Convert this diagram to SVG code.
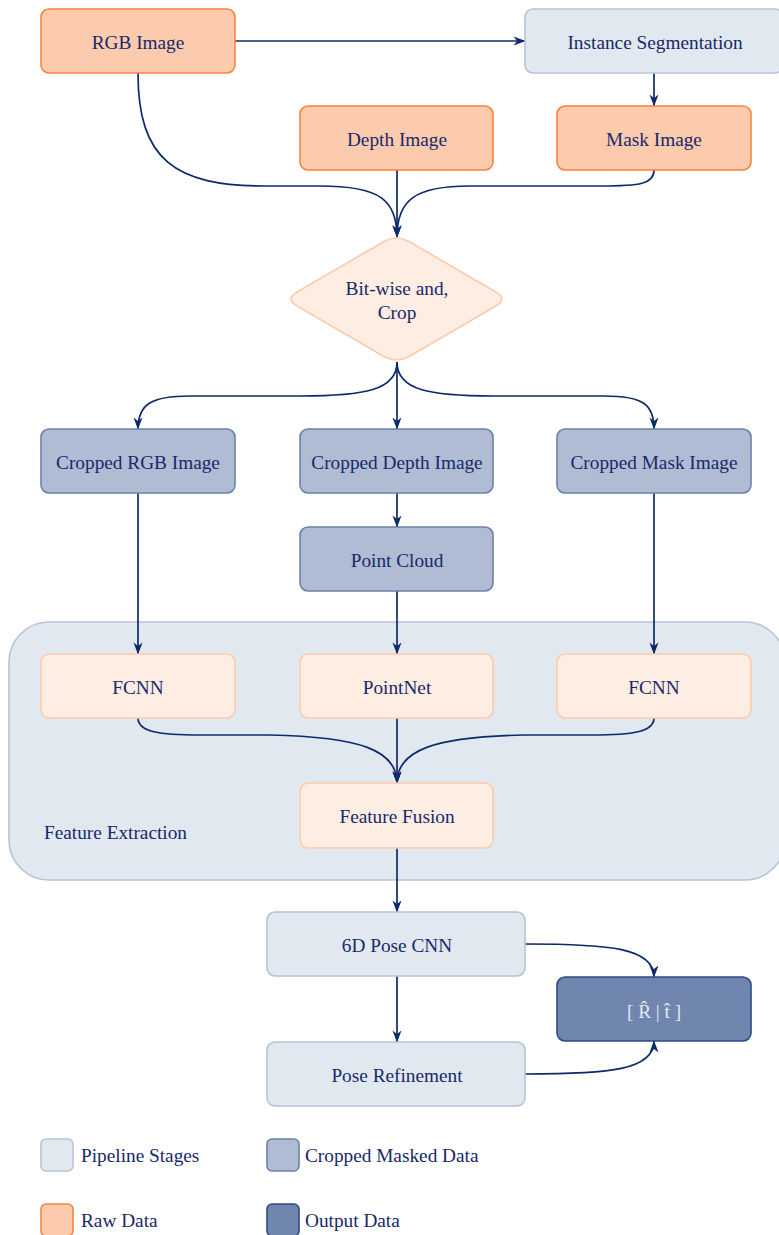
<svg xmlns="http://www.w3.org/2000/svg" width="779" height="1235" viewBox="0 0 779 1235">
<defs>
<marker id="arr" viewBox="0 0 12 10" refX="11.5" refY="5" markerWidth="13" markerHeight="10" markerUnits="userSpaceOnUse" orient="auto">
<path d="M0,0.5 L12,5 L0,9.5 L3.5,5 Z" fill="#0d2a6b"/>
</marker>
<style>
text{font-family:"Liberation Serif","Times New Roman",serif;font-size:19.3px;fill:#16296b;text-anchor:middle}
.raw{fill:#fccbad;stroke:#f5843f;stroke-width:1.6}
.stage{fill:#e2e8f0;stroke:#b6c3d9;stroke-width:1.6}
.crop{fill:#b0bcd4;stroke:#6c80a9;stroke-width:1.6}
.out{fill:#7186ae;stroke:#2f4b86;stroke-width:1.6}
.proc{fill:#feede2;stroke:#fccbad;stroke-width:1.6}
.edge{fill:none;stroke:#0d2a6b;stroke-width:1.7;marker-end:url(#arr)}
.lt{text-anchor:start}
</style>
</defs>
<rect width="779" height="1235" fill="#ffffff"/>

<g id="feature-extraction">
<rect x="9" y="622" width="776" height="258" rx="40" class="stage"/>
<text x="44" y="839" class="lt">Feature Extraction</text>
</g>

<g id="edges">
<path class="edge" d="M235,41 L525,41"/>
<path class="edge" d="M654,73 L654,106"/>
<path class="edge" d="M138,73 C138,160 175,186 265,186 L320,186 C380,186 397,200 397,237"/>
<path class="edge" d="M397,170 L397,237"/>
<path class="edge" d="M654,170 C654,184 640,186 600,186 L470,186 C415,186 397,200 397,237"/>
<path class="edge" d="M397,362 C397,390 365,396 300,396 L190,396 C150,396 138,405 138,429"/>
<path class="edge" d="M397,362 L397,429"/>
<path class="edge" d="M397,362 C397,390 429,396 494,396 L604,396 C644,396 654,405 654,429"/>
<path class="edge" d="M138,493 L138,654"/>
<path class="edge" d="M397,493 L397,527"/>
<path class="edge" d="M397,591 L397,654"/>
<path class="edge" d="M654,493 L654,654"/>
<path class="edge" d="M138,718 C138,732 160,735 200,735 L270,735 C360,737 397,750 397,783"/>
<path class="edge" d="M397,718 L397,783"/>
<path class="edge" d="M654,718 C654,732 632,735 592,735 L524,735 C434,737 397,750 397,783"/>
<path class="edge" d="M397,848 L397,912"/>
<path class="edge" d="M525,944 C610,944 654,948 654,977"/>
<path class="edge" d="M397,976 L397,1042"/>
<path class="edge" d="M525,1074 C610,1074 654,1070 654,1041"/>
</g>

<g id="rgb-image">
<rect x="41" y="9" width="194" height="64" rx="8" class="raw"/>
<text x="138" y="49">RGB Image</text>
</g>
<g id="instance-segmentation">
<rect x="525" y="9" width="258" height="64" rx="8" class="stage"/>
<text x="655" y="49">Instance Segmentation</text>
</g>
<g id="depth-image">
<rect x="300" y="106" width="193" height="64" rx="8" class="raw"/>
<text x="397" y="146">Depth Image</text>
</g>
<g id="mask-image">
<rect x="557" y="106" width="194" height="64" rx="8" class="raw"/>
<text x="654" y="146">Mask Image</text>
</g>
<g id="bitwise-crop">
<path d="M383.9,241.5 Q396.5,234.5 409.1,241.5 L495.9,292 Q508,299 495.9,306 L409.1,356.5 Q396.5,363.5 383.9,356.5 L297.1,306 Q285,299 297.1,292 Z" class="proc"/>
<text x="397" y="295">Bit-wise and,</text>
<text x="397" y="319">Crop</text>
</g>
<g id="cropped-rgb">
<rect x="41" y="429" width="194" height="64" rx="8" class="crop"/>
<text x="138" y="469">Cropped RGB Image</text>
</g>
<g id="cropped-depth">
<rect x="300" y="429" width="193" height="64" rx="8" class="crop"/>
<text x="397" y="469">Cropped Depth Image</text>
</g>
<g id="cropped-mask">
<rect x="557" y="429" width="194" height="64" rx="8" class="crop"/>
<text x="654" y="469">Cropped Mask Image</text>
</g>
<g id="point-cloud">
<rect x="300" y="527" width="193" height="64" rx="8" class="crop"/>
<text x="397" y="567">Point Cloud</text>
</g>
<g id="fcnn-rgb">
<rect x="41" y="654" width="194" height="64" rx="8" class="proc"/>
<text x="138" y="694">FCNN</text>
</g>
<g id="pointnet">
<rect x="300" y="654" width="193" height="64" rx="8" class="proc"/>
<text x="397" y="694">PointNet</text>
</g>
<g id="fcnn-mask">
<rect x="557" y="654" width="194" height="64" rx="8" class="proc"/>
<text x="654" y="694">FCNN</text>
</g>
<g id="feature-fusion">
<rect x="300" y="783" width="193" height="65" rx="8" class="proc"/>
<text x="397" y="823">Feature Fusion</text>
</g>
<g id="pose-cnn">
<rect x="267" y="912" width="258" height="64" rx="8" class="stage"/>
<text x="397" y="952">6D Pose CNN</text>
</g>
<g id="output-pose">
<rect x="557" y="977" width="194" height="64" rx="8" class="out"/>
<text x="654" y="1018" style="fill:#e2e8f0">[ R̂ | t̂ ]</text>
</g>
<g id="pose-refinement">
<rect x="267" y="1042" width="258" height="64" rx="8" class="stage"/>
<text x="397" y="1082">Pose Refinement</text>
</g>

<g id="legend">
<rect x="41" y="1139" width="32" height="32" rx="5" class="stage"/>
<text x="81" y="1162" class="lt">Pipeline Stages</text>
<rect x="267" y="1139" width="32" height="32" rx="5" class="crop"/>
<text x="305" y="1162" class="lt">Cropped Masked Data</text>
<rect x="41" y="1204" width="32" height="32" rx="5" class="raw"/>
<text x="81" y="1227" class="lt">Raw Data</text>
<rect x="267" y="1204" width="32" height="32" rx="5" class="out"/>
<text x="305" y="1227" class="lt">Output Data</text>
</g>
</svg>
